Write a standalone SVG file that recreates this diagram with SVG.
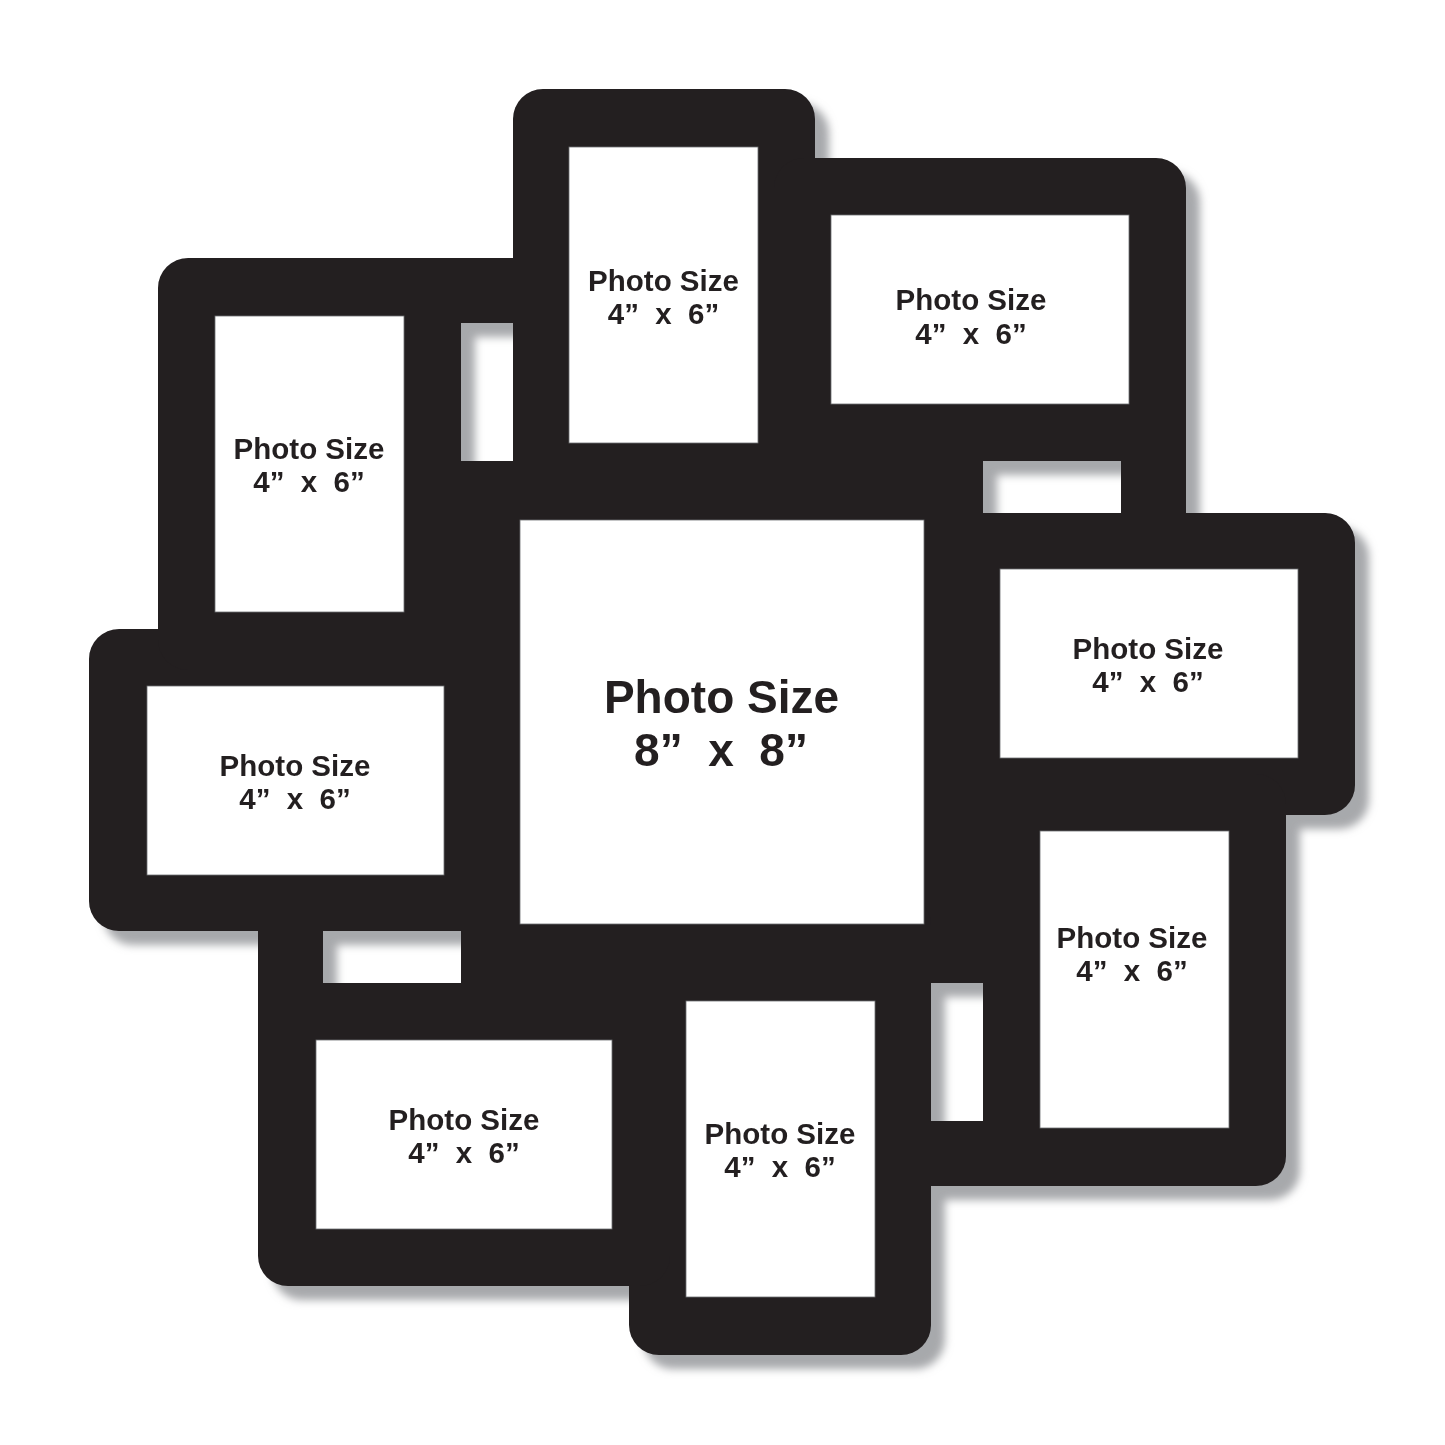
<svg xmlns="http://www.w3.org/2000/svg" xmlns:xlink="http://www.w3.org/1999/xlink" width="1445" height="1445" viewBox="0 0 1445 1445">
<defs>
<style>
.blk{fill:#231f20}
.open{fill:#ffffff;stroke:#6d6e70;stroke-width:0.8}
.lbl{font-family:"Liberation Sans",Arial,sans-serif;font-weight:bold;fill:#231f20;text-anchor:middle;white-space:pre}
.s{font-size:29.5px}
.b{font-size:46px}
</style>
<g id="quarter">
<rect x="513" y="89" width="302" height="460" rx="30"/>
<rect x="774" y="158" width="412" height="400" rx="30"/>
</g>
<g id="body">
<rect x="461" y="461" width="522" height="522"/>
<use href="#quarter"/>
<use href="#quarter" transform="rotate(90 722 722)"/>
<use href="#quarter" transform="rotate(180 722 722)"/>
<use href="#quarter" transform="rotate(270 722 722)"/>
</g>
<rect id="holeq" x="983" y="461" width="138" height="52"/>
<mask id="holes" maskUnits="userSpaceOnUse" x="0" y="0" width="1445" height="1445">
<rect x="0" y="0" width="1445" height="1445" fill="#ffffff"/>
<g fill="#000000">
<use href="#holeq"/>
<use href="#holeq" transform="rotate(90 722 722)"/>
<use href="#holeq" transform="rotate(180 722 722)"/>
<use href="#holeq" transform="rotate(270 722 722)"/>
</g>
</mask>
<g id="frame" mask="url(#holes)"><use href="#body"/></g>
<filter id="blur" x="-10%" y="-10%" width="120%" height="120%"><feGaussianBlur stdDeviation="4.5"/></filter>
</defs>
<rect x="0" y="0" width="1445" height="1445" fill="#ffffff"/>
<g id="shadow" fill="#a7a9ac" filter="url(#blur)"><use href="#frame" transform="translate(14 14)"/></g>
<g id="frame-body" class="blk"><use href="#frame"/></g>
<g id="connectors"></g>
<g id="photo-top">
<rect class="open" x="569" y="147" width="189" height="296"/>
<text class="lbl s" x="663.5" y="291">Photo Size</text>
<text class="lbl s" x="663.5" y="324" xml:space="preserve">4”  x  6”</text>
</g>
<g id="photo-top-right">
<rect class="open" x="831" y="215" width="298" height="189"/>
<text class="lbl s" x="971" y="310">Photo Size</text>
<text class="lbl s" x="971" y="344" xml:space="preserve">4”  x  6”</text>
</g>
<g id="photo-left-upper">
<rect class="open" x="215" y="316" width="189" height="296"/>
<text class="lbl s" x="309" y="459">Photo Size</text>
<text class="lbl s" x="309" y="492" xml:space="preserve">4”  x  6”</text>
</g>
<g id="photo-left">
<rect class="open" x="147" y="686" width="297" height="189"/>
<text class="lbl s" x="295" y="776">Photo Size</text>
<text class="lbl s" x="295" y="809" xml:space="preserve">4”  x  6”</text>
</g>
<g id="photo-center">
<rect class="open" x="520" y="520" width="404" height="404"/>
<text class="lbl b" x="721.5" y="713">Photo Size</text>
<text class="lbl b" x="721" y="766" xml:space="preserve">8”  x  8”</text>
</g>
<g id="photo-right">
<rect class="open" x="1000" y="569" width="298" height="189"/>
<text class="lbl s" x="1148" y="659">Photo Size</text>
<text class="lbl s" x="1148" y="692" xml:space="preserve">4”  x  6”</text>
</g>
<g id="photo-right-lower">
<rect class="open" x="1040" y="831" width="189" height="297"/>
<text class="lbl s" x="1132" y="948">Photo Size</text>
<text class="lbl s" x="1132" y="981" xml:space="preserve">4”  x  6”</text>
</g>
<g id="photo-bottom-left">
<rect class="open" x="316" y="1040" width="296" height="189"/>
<text class="lbl s" x="464" y="1130">Photo Size</text>
<text class="lbl s" x="464" y="1163" xml:space="preserve">4”  x  6”</text>
</g>
<g id="photo-bottom">
<rect class="open" x="686" y="1001" width="189" height="296"/>
<text class="lbl s" x="780" y="1144">Photo Size</text>
<text class="lbl s" x="780" y="1177" xml:space="preserve">4”  x  6”</text>
</g>
</svg>
